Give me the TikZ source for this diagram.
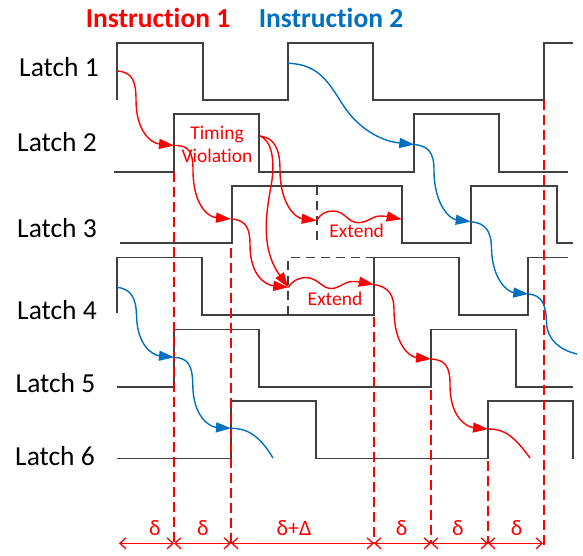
\documentclass[tikz,border=0pt]{standalone}
\usepackage{fontspec}
\setmainfont{Carlito}[Ligatures=NoCommon]
\usetikzlibrary{arrows.meta}
\definecolor{instA}{HTML}{FF0000}
\definecolor{instB}{HTML}{0070C0}
\definecolor{wire}{HTML}{404040}

\begin{document}
\begin{tikzpicture}[x=1pt,y=-1pt,
  wave/.style={draw=wire,line width=1.5pt,line join=miter},
  ghost/.style={draw=wire,line width=1.5pt,dash pattern=on 9pt off 6pt},
  flowA/.style={draw=instA,line width=1.4pt,-{Triangle[length=15pt,width=10pt]}},
  flowB/.style={draw=instB,line width=1.4pt,-{Triangle[length=15pt,width=10pt]}},
  tailA/.style={draw=instA,line width=1.4pt},
  tailB/.style={draw=instB,line width=1.4pt},
  edge/.style={draw=instA,line width=1.4pt,dash pattern=on 10pt off 5pt},
  span/.style={draw=instA,line width=1.3pt,{Straight Barb[length=6pt,width=11pt]}-{Straight Barb[length=6pt,width=11pt]}},
  latch/.style={anchor=base,font=\fontsize{27.5}{30}\selectfont},
  title/.style={anchor=base,font=\fontsize{27.5}{30}\selectfont\bfseries},
  note/.style={anchor=base,text=instA,font=\fontsize{19.5}{22}\selectfont},
  gap/.style={anchor=base,text=instA,font=\fontsize{22}{24}\selectfont}
]
\useasboundingbox (0,0) rectangle (583,556);

% headings
\node[title,text=instA] (ins1) at (158,28) {Instruction 1};
\node[title,text=instB] (ins2) at (331,28) {Instruction 2};

% row labels
\node[latch] (l1) at (59,77) {Latch 1};
\node[latch] (l2) at (57,152) {Latch 2};
\node[latch] (l3) at (57,237) {Latch 3};
\node[latch] (l4) at (57,319) {Latch 4};
\node[latch] (l5) at (55.5,392) {Latch 5};
\node[latch] (l6) at (55,465) {Latch 6};

% latch enable waveforms
\draw[wave] (117,100) -- (117,43) -- (203,43) -- (203,100) -- (288,100) -- (288,43)
  -- (373,43) -- (373,100) -- (544,100) -- (544,43) -- (573,43);
\draw[wave] (114,172) -- (174,172) -- (174,114) -- (259,114) -- (259,172) -- (414,172)
  -- (414,114) -- (499,114) -- (499,172) -- (568,172);
\draw[wave] (120,243) -- (232,243) -- (232,186) -- (402,186) -- (402,243) -- (471,243)
  -- (471,186) -- (557,186) -- (557,243) -- (573,243);
\draw[wave] (117,313) -- (117,257.5) -- (202,257.5) -- (202,315) -- (374,315) -- (374,257.5)
  -- (459,257.5) -- (459,315) -- (528,315) -- (528,257.5) -- (568,257.5);
\draw[wave] (117,387) -- (174,387) -- (174,329.5) -- (259,329.5) -- (259,387) -- (431,387)
  -- (431,329.5) -- (516,329.5) -- (516,387) -- (573,387);
\draw[wave] (117,458.5) -- (231,458.5) -- (231,401) -- (316,401) -- (316,458.5) -- (488,458.5)
  -- (488,401) -- (573,401) -- (573,458.5);

% nominal edges that were pushed back
\draw[ghost] (317,186) -- (317,243);
\draw[ghost] (288,315) -- (288,257.5) -- (374,257.5);

% capture instants
\draw[edge] (174,172) -- (174,543);
\draw[edge] (231,248) -- (231,543);
\draw[edge] (374,317) -- (374,543);
\draw[edge] (431,390) -- (431,543);
\draw[edge] (488,461) -- (488,543);
\draw[edge] (544,100) -- (544,547);

% anchor points of the data paths
\coordinate (a0) at (117,71);
\coordinate (a1) at (174,145.5);
\coordinate (a2) at (231,219);
\coordinate (a3) at (288.3,287.3);
\coordinate (a4) at (373.8,284.5);
\coordinate (a5) at (431,359);
\coordinate (a6) at (488,429);
\coordinate (a7) at (530,458);
\coordinate (tv) at (260,136);
\coordinate (x3) at (316.7,220.5);
\coordinate (x3e) at (401.7,219.3);
\coordinate (b0) at (288,63.3);
\coordinate (b1) at (414.3,144.5);
\coordinate (b2) at (470.7,221.7);
\coordinate (b3) at (528.3,294);
\coordinate (b4) at (577,354);
\coordinate (c0) at (117.3,287.3);
\coordinate (c1) at (174,357.3);
\coordinate (c2) at (231,428.3);
\coordinate (c3) at (273,458);

% instruction 1
\draw[flowA] (a0) .. controls (133,72) and (136,82) .. (136,100)
  .. controls (136,130) and (150,143) .. (a1);
\draw[flowA] (a1) .. controls (189,145) and (193,152) .. (193,170)
  .. controls (193,205) and (208,217) .. (a2);
\draw[flowA] (a2) .. controls (246,220) and (250,228) .. (250,245)
  .. controls (250,275) and (265,285) .. (a3);
\draw[flowA] (tv) .. controls (274,138) and (280,148) .. (280,170)
  .. controls (280,205) and (296,218) .. (x3);
\draw[flowA] (tv) .. controls (270,140) and (275,155) .. (272,180)
  .. controls (268,205) and (258,245) .. (a3);
\draw[flowA] (x3) .. controls (321,213) and (327,211) .. (333,211)
  .. controls (345,211) and (348,222.7) .. (358,222.7)
  .. controls (368,222.7) and (372,216) .. (380,216)
  .. controls (388,216) and (395,218) .. (x3e);
\draw[flowA] (a3) .. controls (293,280) and (300,277.5) .. (306,277.5)
  .. controls (318,278) and (322,288.5) .. (331,288.5)
  .. controls (340,288.5) and (344,281.5) .. (352,281.5)
  .. controls (360,281.5) and (366,283) .. (a4);
\draw[flowA] (a4) .. controls (389,287) and (394,295) .. (394,310)
  .. controls (394,345) and (410,357) .. (a5);
\draw[flowA] (a5) .. controls (446,360) and (450,367) .. (450,385)
  .. controls (450,418) and (467,427) .. (a6);
\draw[tailA] (a6) .. controls (502,429) and (512,433) .. (a7);

% instruction 2
\draw[flowB] (b0) .. controls (320,64) and (330,85) .. (343,105)
  .. controls (358,128) and (380,141) .. (b1);
\draw[flowB] (b1) .. controls (428,146) and (434,152) .. (434,170)
  .. controls (434,205) and (450,219) .. (b2);
\draw[flowB] (b2) .. controls (485,223) and (491,230) .. (491.5,248)
  .. controls (492,280) and (508,292) .. (b3);
\draw[tailB] (b3) .. controls (542,295) and (546,305) .. (546.5,322)
  .. controls (547,340) and (560,350) .. (b4);
\draw[flowB] (c0) .. controls (131,289) and (136,298) .. (136.5,315)
  .. controls (137,345) and (152,355) .. (c1);
\draw[flowB] (c1) .. controls (188,358) and (192.5,365) .. (192.8,385)
  .. controls (193,417) and (210,427) .. (c2);
\draw[tailB] (c2) .. controls (245,428.3) and (258,433) .. (c3);

% annotations
\node[note] (tv1) at (217,140) {Timing};
\node[note] (tv2) at (217,163) {Violation};
\node[note] (ext3) at (356.7,237.5) {Extend};
\node[note] (ext4) at (335,305) {Extend};

% stage delays along the time axis
\coordinate (t0) at (119,543.3);
\coordinate (t1) at (174,543.3);
\coordinate (t2) at (231,543.3);
\coordinate (t3) at (374,543.3);
\coordinate (t4) at (431,543.3);
\coordinate (t5) at (488,543.3);
\coordinate (t6) at (543,543.3);
\draw[span] (t0) -- (t1);
\draw[span] (t1) -- (t2);
\draw[span] (t2) -- (t3);
\draw[span] (t3) -- (t4);
\draw[span] (t4) -- (t5);
\draw[span] (t5) -- (t6);
\node[gap] (d1) at (155,535) {δ};
\node[gap] (d2) at (203,535) {δ};
\node[gap] (d3) at (294,535) {δ+Δ};
\node[gap] (d4) at (401.7,535) {δ};
\node[gap] (d5) at (458,535) {δ};
\node[gap] (d6) at (516.7,535) {δ};
\end{tikzpicture}
\end{document}
